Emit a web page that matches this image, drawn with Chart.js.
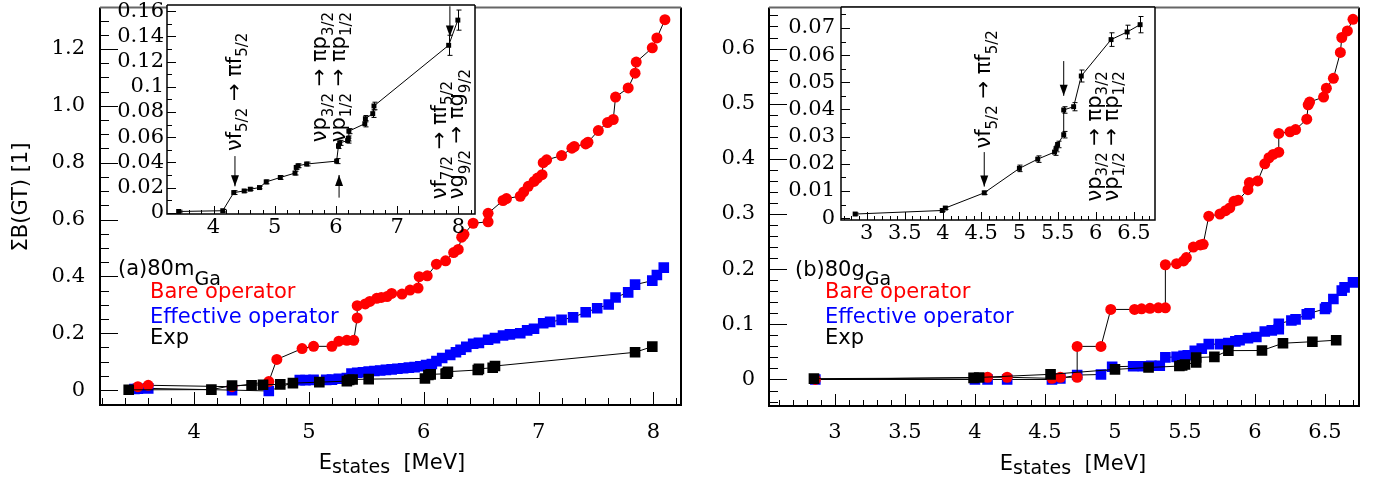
<!DOCTYPE html>
<html>
<head>
<meta charset="utf-8">
<script src="https://cdn.jsdelivr.net/npm/chart.js@4.4.1/dist/chart.umd.min.js"></script>
<style>
html, body { margin: 0; padding: 0; background: #fff; }
#wrap { position: relative; width: 1385px; height: 480px; overflow: hidden; }
.box { position: absolute; }
</style>
</head>
<body>
<div id="wrap">
  <div class="box" style="left:0;top:0"><canvas id="mainA" width="700" height="480"></canvas></div>
  <div class="box" style="left:100px;top:0"><canvas id="insetA" width="400" height="250"></canvas></div>
  <div class="box" style="left:700px;top:0"><canvas id="mainB" width="685" height="480"></canvas></div>
  <div class="box" style="left:770px;top:0"><canvas id="insetB" width="400" height="260"></canvas></div>
</div>
<script>
// ---- (a) 80mGa ----
const bareA_x = [3.51,3.60,4.33,4.65,4.72,4.94,5.04,5.20,5.26,5.33,5.39,5.42,5.42,5.49,5.53,5.59,5.63,5.68,5.72,5.81,5.88,5.95,5.96,6.03,6.11,6.19,6.26,6.30,6.33,6.35,6.43,6.56,6.56,6.69,6.72,6.84,6.87,6.91,6.96,6.99,7.03,7.04,7.07,7.20,7.29,7.31,7.41,7.43,7.52,7.60,7.65,7.67,7.78,7.84,7.85,7.99,8.03,8.10];
const bareA_y = [0.012,0.017,0.012,0.030,0.108,0.146,0.154,0.154,0.172,0.175,0.175,0.254,0.297,0.303,0.312,0.323,0.326,0.329,0.340,0.338,0.352,0.359,0.399,0.402,0.443,0.455,0.484,0.495,0.538,0.548,0.587,0.592,0.622,0.667,0.674,0.682,0.697,0.717,0.734,0.746,0.758,0.800,0.810,0.825,0.851,0.857,0.866,0.872,0.913,0.941,0.952,1.031,1.063,1.115,1.154,1.204,1.239,1.303];
const effA_x = [3.48,3.51,3.60,4.33,4.65,4.92,4.97,5.04,5.15,5.20,5.26,5.33,5.37,5.42,5.47,5.52,5.57,5.62,5.67,5.72,5.77,5.82,5.87,5.92,5.97,6.02,6.07,6.11,6.16,6.23,6.28,6.32,6.37,6.43,6.48,6.56,6.62,6.69,6.75,6.84,6.90,6.96,7.04,7.10,7.20,7.30,7.41,7.51,7.61,7.67,7.78,7.84,7.99,8.03,8.09];
const effA_y = [0.004,0.005,0.006,0.0,-0.003,0.035,0.035,0.036,0.036,0.037,0.040,0.042,0.058,0.061,0.063,0.065,0.067,0.069,0.071,0.073,0.075,0.077,0.079,0.081,0.084,0.088,0.092,0.102,0.113,0.124,0.133,0.142,0.152,0.163,0.166,0.177,0.183,0.192,0.196,0.200,0.210,0.216,0.235,0.240,0.247,0.256,0.274,0.288,0.301,0.326,0.344,0.371,0.385,0.405,0.431];
const expA_x = [3.43,4.15,4.33,4.50,4.60,4.75,4.86,5.09,5.33,5.35,5.38,5.52,6.01,6.04,6.06,6.19,6.20,6.21,6.47,6.48,6.60,6.62,7.84,7.99];
const expA_y = [0.001,0.0016,0.016,0.0173,0.0187,0.020,0.0245,0.028,0.0315,0.036,0.0373,0.0387,0.041,0.053,0.0555,0.0573,0.059,0.0648,0.0707,0.0747,0.0787,0.0848,0.133,0.153];
const expA_err = [0.001,0.001,0.0015,0.001,0.001,0.001,0.0015,0.0015,0.0015,0.0015,0.0015,0.0015,0.002,0.002,0.002,0.002,0.002,0.002,0.0025,0.0025,0.003,0.003,0.008,0.008];

// ---- (b) 80gGa ----
const bareB_x = [2.86,4.09,4.23,4.55,4.61,4.73,4.73,4.90,4.97,5.14,5.19,5.25,5.31,5.36,5.36,5.44,5.49,5.51,5.56,5.61,5.63,5.67,5.75,5.79,5.82,5.85,5.88,5.95,5.96,6.02,6.07,6.10,6.13,6.17,6.17,6.25,6.29,6.37,6.38,6.39,6.49,6.51,6.56,6.61,6.62,6.66,6.70];
const bareB_y = [0.0,0.004,0.004,0.002,0.004,0.004,0.060,0.060,0.127,0.127,0.128,0.129,0.130,0.130,0.208,0.210,0.215,0.221,0.240,0.244,0.245,0.296,0.300,0.306,0.311,0.323,0.325,0.344,0.357,0.360,0.391,0.402,0.408,0.412,0.446,0.449,0.453,0.472,0.498,0.503,0.512,0.528,0.546,0.593,0.620,0.632,0.653];
const effB_x = [2.86,4.00,4.09,4.23,4.55,4.61,4.73,4.90,4.98,5.13,5.20,5.26,5.32,5.36,5.44,5.49,5.52,5.57,5.62,5.67,5.75,5.81,5.86,5.89,5.95,6.01,6.07,6.12,6.17,6.17,6.26,6.29,6.37,6.39,6.50,6.51,6.56,6.62,6.64,6.70];
const effB_y = [0.0,0.0,0.0,0.0,0.0,0.002,0.008,0.009,0.023,0.024,0.024,0.025,0.025,0.040,0.041,0.043,0.044,0.052,0.056,0.064,0.064,0.066,0.069,0.071,0.075,0.077,0.087,0.089,0.091,0.101,0.107,0.109,0.118,0.120,0.128,0.131,0.146,0.161,0.167,0.176];
const expB_x = [2.85,3.99,4.03,4.54,5.00,5.24,5.46,5.48,5.50,5.58,5.58,5.71,5.81,6.05,6.20,6.41,6.58];
const expB_y = [0.0015,0.0028,0.0037,0.0093,0.0183,0.0217,0.0243,0.0256,0.0271,0.0307,0.0398,0.041,0.0523,0.0525,0.0657,0.0685,0.0712];
// inset (b) data points
const expBi_x = [2.85,3.99,4.03,4.54,5.00,5.24,5.46,5.48,5.50,5.58,5.58,5.71,5.81,6.20,6.41,6.58];
const expBi_y = [0.0015,0.0028,0.0037,0.0093,0.0183,0.0217,0.0243,0.0256,0.0271,0.0307,0.0398,0.041,0.0523,0.0657,0.0685,0.0712];
const expBi_err = [0.0004,0.0004,0.0005,0.0006,0.0012,0.0012,0.0012,0.0012,0.0012,0.0012,0.0012,0.0015,0.0022,0.0025,0.0025,0.003];

// ticks
const xTicksA = [4,5,6,7,8];
const xLabelsA = ['4','5','6','7','8'];
const yTicksA = [0,0.2,0.4,0.6,0.8,1.0,1.2];
const yLabelsA = ['0','0.2','0.4','0.6','0.8','1.0','1.2'];
const yTicksAi = [0,0.02,0.04,0.06,0.08,0.1,0.12,0.14,0.16];
const yLabelsAi = ['0','0.02','0.04','0.06','0.08','0.1','0.12','0.14','0.16'];
const xTicksB = [3,3.5,4,4.5,5,5.5,6,6.5];
const xLabelsB = ['3','3.5','4','4.5','5','5.5','6','6.5'];
const yTicksB = [0,0.1,0.2,0.3,0.4,0.5,0.6];
const yLabelsB = ['0','0.1','0.2','0.3','0.4','0.5','0.6'];
const yTicksBi = [0,0.01,0.02,0.03,0.04,0.05,0.06,0.07];
const yLabelsBi = ['0','0.01','0.02','0.03','0.04','0.05','0.06','0.07'];

const SANS = '"DejaVu Sans"';
const SERIF = '"DejaVu Serif"';

function pts(xs, ys) { return xs.map((x, i) => ({ x: x, y: ys[i] })); }

function series(xs, ys, color, style, r, order) {
  return {
    data: pts(xs, ys),
    borderColor: '#000', borderWidth: 1,
    pointStyle: style, pointRadius: r, pointHoverRadius: r,
    pointBackgroundColor: color, pointBorderColor: color, pointBorderWidth: 0,
    order: order
  };
}

function axis(min, max, ticks, labels, size, pad, horiz) {
  return {
    type: 'linear', min: min, max: max,
    grid: { display: false, drawTicks: false },
    border: { display: false },
    afterFit: s => {
      if (horiz) s.height = size; else s.width = size;
      s.paddingTop = 0; s.paddingBottom = 0; s.paddingLeft = 0; s.paddingRight = 0;
    },
    afterBuildTicks: s => { s.ticks = ticks.map(v => ({ value: v })); },
    ticks: {
      padding: pad, color: '#000', autoSkip: false, maxRotation: 0,
      font: { family: 'DejaVu Serif', size: 21 },
      callback: (v, i) => labels[i]
    }
  };
}

// rich text: parts = [[text, isSub], ...]
function rich(ctx, x, y, parts, size, rot) {
  ctx.save();
  ctx.translate(x, y);
  if (rot) ctx.rotate(-Math.PI / 2);
  ctx.textAlign = 'left';
  ctx.textBaseline = 'alphabetic';
  let cx = 0;
  for (const p of parts) {
    const fs = p[1] ? Math.round(size * 0.72) : size;
    ctx.font = fs + 'px ' + SANS;
    ctx.fillText(p[0], cx, p[1] ? size * 0.3 : 0);
    cx += ctx.measureText(p[0]).width;
  }
  ctx.restore();
}

function arrow(ctx, x, y0, y1) {
  ctx.beginPath(); ctx.moveTo(x, y0); ctx.lineTo(x, y1); ctx.stroke();
  const d = Math.sign(y1 - y0);
  ctx.beginPath();
  ctx.moveTo(x, y1); ctx.lineTo(x - 4, y1 - d * 11); ctx.lineTo(x + 4, y1 - d * 11);
  ctx.closePath(); ctx.fill();
}

// frame + inside ticks + extras
function frame(cfg) {
  return {
    id: 'frame',
    beforeDraw(chart) {
      if (!cfg.fill) return;
      const a = chart.chartArea, ctx = chart.ctx;
      ctx.save(); ctx.fillStyle = '#fff';
      ctx.fillRect(a.left, a.top, a.right - a.left, a.bottom - a.top);
      ctx.restore();
    },
    afterDatasetsDraw(chart) {
      if (!cfg.err) return;
      const ctx = chart.ctx, x = chart.scales.x, y = chart.scales.y;
      ctx.save(); ctx.strokeStyle = '#000'; ctx.lineWidth = 1;
      ctx.beginPath();
      cfg.err.xs.forEach((v, i) => {
        const px = Math.round(x.getPixelForValue(v)) + 0.5;
        const y0 = y.getPixelForValue(cfg.err.ys[i] - cfg.err.e[i]);
        const y1 = y.getPixelForValue(cfg.err.ys[i] + cfg.err.e[i]);
        ctx.moveTo(px, y0); ctx.lineTo(px, y1);
        ctx.moveTo(px - 2, y0); ctx.lineTo(px + 3, y0);
        ctx.moveTo(px - 2, y1); ctx.lineTo(px + 3, y1);
      });
      ctx.stroke(); ctx.restore();
    },
    afterDraw(chart) {
      const ctx = chart.ctx, a = chart.chartArea, x = chart.scales.x, y = chart.scales.y;
      ctx.save();
      ctx.strokeStyle = '#000'; ctx.lineWidth = 1;
      ctx.beginPath();
      const i0 = Math.ceil(x.min / cfg.xm - 1e-6), i1 = Math.floor(x.max / cfg.xm + 1e-6);
      for (let i = i0; i <= i1; i++) {
        const v = i * cfg.xm;
        const major = cfg.xt.some(t => Math.abs(t - v) < 1e-6);
        const px = Math.round(x.getPixelForValue(v)) + 0.5;
        ctx.moveTo(px, a.bottom); ctx.lineTo(px, a.bottom - (major ? cfg.xl[0] : cfg.xl[1]));
      }
      const j0 = Math.ceil(y.min / cfg.ym - 1e-6), j1 = Math.floor(y.max / cfg.ym + 1e-6);
      for (let j = j0; j <= j1; j++) {
        const v = j * cfg.ym;
        const major = cfg.yt.some(t => Math.abs(t - v) < 1e-6);
        const py = Math.round(y.getPixelForValue(v)) + 0.5;
        ctx.moveTo(a.left, py); ctx.lineTo(a.left + (major ? cfg.yl[0] : cfg.yl[1]), py);
      }
      ctx.stroke();
      // frame lines
      ctx.lineWidth = cfg.lw;
      ctx.beginPath();
      ctx.moveTo(a.left, a.top); ctx.lineTo(a.left, a.bottom); ctx.lineTo(a.right, a.bottom);
      if (cfg.right) ctx.lineTo(a.right, a.top);
      ctx.stroke();
      ctx.strokeStyle = cfg.topColor || '#000';
      ctx.beginPath(); ctx.moveTo(a.left, a.top); ctx.lineTo(a.right, a.top); ctx.stroke();
      ctx.fillStyle = '#000'; ctx.strokeStyle = '#000'; ctx.lineWidth = 1;
      if (cfg.extra) cfg.extra(chart, ctx);
      ctx.restore();
    }
  };
}

function make(id, datasets, xs, ys, pad, cfg) {
  return new Chart(document.getElementById(id), {
    type: 'line',
    data: { datasets: datasets },
    options: {
      responsive: false, animation: false, devicePixelRatio: 1,
      layout: { padding: pad },
      plugins: { legend: { display: false }, tooltip: { enabled: false } },
      scales: { x: xs, y: ys }
    },
    plugins: [frame(cfg)]
  });
}

function txt(ctx, s, x, y, color, size, font) {
  ctx.font = size + 'px ' + (font || SANS);
  ctx.fillStyle = color;
  ctx.textAlign = 'left'; ctx.textBaseline = 'alphabetic';
  ctx.fillText(s, x, y);
}

function xTitle(ctx, cx, base) {
  ctx.font = '21px ' + SANS;
  const wE = ctx.measureText('E').width, wM = ctx.measureText('  [MeV]').width;
  ctx.font = '19px ' + SANS;
  const wS = ctx.measureText('states').width;
  let x = cx - (wE + wS + wM) / 2;
  txt(ctx, 'E', x, base, '#000', 21); x += wE;
  txt(ctx, 'states', x, base + 4, '#000', 19); x += wS;
  txt(ctx, '  [MeV]', x, base, '#000', 21);
}

// ---- main (a) ----
make('mainA', [
  series(expA_x, expA_y, '#000', 'rect', 7.5, 0),
  series(bareA_x, bareA_y, '#ff0000', 'circle', 5.5, 1),
  series(effA_x, effA_y, '#0000ff', 'rect', 7.5, 2)
],
axis(3.18, 8.24, xTicksA, xLabelsA, 75, 15, true),
axis(-0.0524, 1.346, yTicksA, yLabelsA, 100, 15, false),
{ left: 0, right: 19, top: 5, bottom: 0 },
{ xm: 0.2, ym: 0.05, xt: xTicksA, yt: yTicksA, xl: [13, 7], yl: [18, 9], lw: 2, right: true, topColor: '#666',
  extra: (chart, ctx) => {
    txt(ctx, '(a)80m', 118, 275, '#000', 21);
    ctx.font = '21px ' + SANS;
    const w = ctx.measureText('(a)80m').width;
    txt(ctx, 'Ga', 118 + w, 285, '#000', 19);
    txt(ctx, 'Bare operator', 150, 298, '#ff0000', 21);
    txt(ctx, 'Effective operator', 150, 323, '#0000ff', 21);
    txt(ctx, 'Exp', 150, 344, '#000', 21);
    xTitle(ctx, 392, 469);
    ctx.save();
    ctx.translate(27, 197); ctx.rotate(-Math.PI / 2);
    ctx.font = '21px ' + SANS; ctx.textAlign = 'center'; ctx.fillStyle = '#000';
    ctx.fillText('\u03A3B(GT) [1]', 0, 0);
    ctx.restore();
  } });

// ---- inset (a) ----
make('insetA', [
  Object.assign(series(expA_x, expA_y, '#000', 'rect', 3.5, 0), { clip: false })
],
axis(3.24, 8.27, xTicksA, xLabelsA, 36, 1, true),
axis(-0.001, 0.165, yTicksAi, yLabelsAi, 67, 3, false),
{ left: 0, right: 25, top: 5, bottom: 0 },
{ fill: true, xm: 0.2, ym: 0.01, xt: xTicksA, yt: yTicksAi, xl: [8, 4], yl: [9, 5], lw: 1.5, right: true,
  err: { xs: expA_x, ys: expA_y, e: expA_err },
  extra: (chart, ctx) => {
    const X = v => chart.scales.x.getPixelForValue(v), Y = v => chart.scales.y.getPixelForValue(v);
    arrow(ctx, X(4.35), Y(0.045), Y(0.021));
    arrow(ctx, X(6.05), Y(0.012), Y(0.030));
    arrow(ctx, X(7.86), Y(0.164), Y(0.140));
    rich(ctx, X(4.45), Y(0.049), [['\u03BDf'], ['5/2', 1], [' \u2192 \u03C0f'], ['5/2', 1]], 21, true);
    rich(ctx, X(5.84), Y(0.056), [['\u03BDp'], ['3/2', 1], [' \u2192 \u03C0p'], ['3/2', 1]], 21, true);
    rich(ctx, X(6.15), Y(0.056), [['\u03BDp'], ['1/2', 1], [' \u2192 \u03C0p'], ['1/2', 1]], 21, true);
    rich(ctx, X(7.79), Y(0.0107), [['\u03BDf'], ['7/2', 1], [' \u2192 \u03C0f'], ['5/2', 1]], 21, true);
    rich(ctx, X(8.08), Y(0.0107), [['\u03BDg'], ['9/2', 1], [' \u2192 \u03C0g'], ['9/2', 1]], 21, true);
  } });

// ---- main (b) ----
make('mainB', [
  series(expB_x, expB_y, '#000', 'rect', 7.5, 0),
  series(bareB_x, bareB_y, '#ff0000', 'circle', 5.5, 1),
  series(effB_x, effB_y, '#0000ff', 'rect', 7.5, 2)
],
axis(2.529, 6.743, xTicksB, xLabelsB, 74, 14, true),
axis(-0.0481, 0.6744, yTicksB, yLabelsB, 69, 14, false),
{ left: 0, right: 26, top: 5, bottom: 0 },
{ xm: 0.1, ym: 0.02, xt: xTicksB, yt: yTicksB, xl: [12, 6], yl: [18, 9], lw: 2, right: true, topColor: '#666',
  extra: (chart, ctx) => {
    txt(ctx, '(b)80g', 95, 276, '#000', 21);
    ctx.font = '21px ' + SANS;
    const w = ctx.measureText('(b)80g').width;
    txt(ctx, 'Ga', 95 + w, 285, '#000', 19);
    txt(ctx, 'Bare operator', 125, 298, '#ff0000', 21);
    txt(ctx, 'Effective operator', 125, 323, '#0000ff', 21);
    txt(ctx, 'Exp', 125, 344, '#000', 21);
    xTitle(ctx, 373, 470);
  } });

// ---- inset (b) ----
make('insetB', [
  Object.assign(series(expBi_x, expBi_y, '#000', 'rect', 3.5, 0), { clip: false })
],
axis(2.665, 6.775, xTicksB, xLabelsB, 40, 1, true),
axis(-0.0007, 0.0777, yTicksBi, yLabelsBi, 71, 6, false),
{ left: 0, right: 15, top: 7, bottom: 0 },
{ fill: true, xm: 0.1, ym: 0.005, xt: xTicksB, yt: yTicksBi, xl: [8, 4], yl: [9, 5], lw: 1.5, right: true,
  err: { xs: expBi_x, ys: expBi_y, e: expBi_err },
  extra: (chart, ctx) => {
    const X = v => chart.scales.x.getPixelForValue(v), Y = v => chart.scales.y.getPixelForValue(v);
    arrow(ctx, X(4.54), Y(0.0243), Y(0.0116));
    arrow(ctx, X(5.58), Y(0.0578), Y(0.045));
    rich(ctx, X(4.62), Y(0.0256), [['\u03BDf'], ['5/2', 1], [' \u2192 \u03C0f'], ['5/2', 1]], 21, true);
    rich(ctx, X(6.07), Y(0.0061), [['\u03BDp'], ['3/2', 1], [' \u2192 \u03C0p'], ['3/2', 1]], 21, true);
    rich(ctx, X(6.29), Y(0.0061), [['\u03BDp'], ['1/2', 1], [' \u2192 \u03C0p'], ['1/2', 1]], 21, true);
  } });
</script>
</body>
</html>
